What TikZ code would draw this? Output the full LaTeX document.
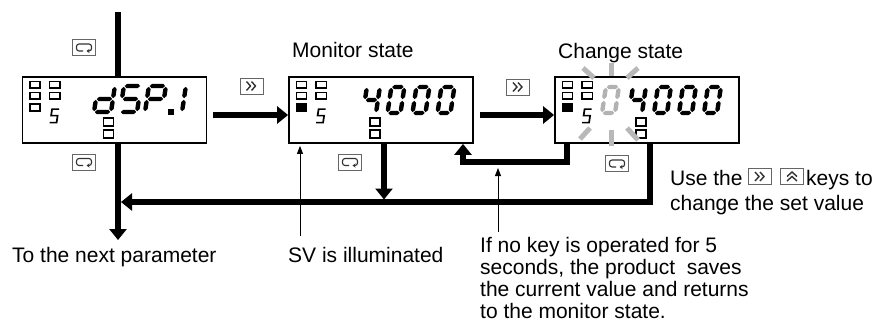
\documentclass[tikz,border=0pt]{standalone}
\usepackage{fontspec}
\setmainfont{Liberation Sans}
\usetikzlibrary{arrows.meta, positioning}

% seven-segment digit: [colour]{x}{y of bottom stroke}{width}{segments}
\def\segH{26}  % height between top and bottom stroke
\def\segT{2.2} % half stroke
\def\segG{0.8} % gap at the corners
\newcommand{\hseg}[3]{({#1},{#3}) -- ({#1+\segT},{#3+\segT}) -- ({#2-\segT},{#3+\segT})
  -- ({#2},{#3}) -- ({#2-\segT},{#3-\segT}) -- ({#1+\segT},{#3-\segT}) -- cycle}
\newcommand{\vseg}[3]{({#1},{#2}) -- ({#1+\segT},{#2-\segT}) -- ({#1+\segT},{#3+\segT})
  -- ({#1},{#3}) -- ({#1-\segT},{#3+\segT}) -- ({#1-\segT},{#2-\segT}) -- cycle}
\newcommand{\segdigit}[5][black]{%
  \begin{scope}[shift={(#2,#3)}, xslant=0.15, y=1pt]
    \def\segW{#4}
    \foreach \s in {#5} {\fill[#1, seg \s];}
  \end{scope}}

\tikzset{
  seg a/.style={insert path={\hseg{\segG}{\segW-\segG}{\segH}}},
  seg b/.style={insert path={\vseg{\segW}{\segH-\segG}{\segH/2+\segG}}},
  seg c/.style={insert path={\vseg{\segW}{\segH/2-\segG}{\segG}}},
  seg d/.style={insert path={\hseg{\segG}{\segW-\segG}{0}}},
  seg e/.style={insert path={\vseg{0}{\segH/2-\segG}{\segG}}},
  seg f/.style={insert path={\vseg{0}{\segH-\segG}{\segH/2+\segG}}},
  seg g/.style={insert path={\hseg{\segG}{\segW-\segG}{\segH/2}}},
}

\begin{document}
\begin{tikzpicture}[
    x=1pt, y=-1pt,
    display/.style={rectangle, draw, line width=1.8pt, fill=white,
                    minimum width=184pt, minimum height=66pt, inner sep=0pt},
    keybox/.style={rectangle, draw=black!60, line width=0.9pt, fill=white,
                   minimum width=23pt, minimum height=16pt, inner sep=0pt},
    glyph/.style={black!80, line width=1.4pt},
    lamp/.style={draw, line width=1.4pt},
    note/.style={font=\fontsize{21}{22}\selectfont, inner sep=0pt},
    flow/.style={line width=5.5pt, -{Triangle[length=11pt, width=17pt]}},
    hint/.style={line width=0.9pt, -{Triangle[length=8pt, width=6pt]}},
    ray/.style={black!28, line width=5pt},
    % indicator lamps of one display, origin at its north west corner
    panel/.pic={
      \draw[lamp] (8.5,5.5) rectangle (18.5,12);
      \draw[lamp] (8.5,16.5) rectangle (18.5,23);
      \draw[lamp, fill=#1] (8.5,28) rectangle (18.5,35);
      \draw[lamp] (28,5.5) rectangle (38.5,12);
      \draw[lamp] (28,16.5) rectangle (38.5,23);
      \draw[line width=1.7pt] (37.5,33) -- (30.5,33) -- (29.5,39.5) -- (36,39.5) -- (35,46.5) -- (28,46.5);
      \draw[lamp] (82,42) rectangle (92,50);
      \draw[lamp] (82,54) rectangle (92,62);
    },
    retglyph/.pic={
      \draw[glyph, line width=1.1pt, rounded corners=2.5pt, -{Stealth[length=3pt, width=4pt]}]
        (-1,3.5) -- (-7.5,3.5) -- (-7.5,-3.5) -- (7.5,-3.5) -- (7.5,3.5) -- (2.5,3.5);
    },
    fastglyph/.pic={
      \draw[glyph] (-5,-4.5) -- (-1,0) -- (-5,4.5) (0,-4.5) -- (4,0) -- (0,4.5);
    },
    upglyph/.pic={
      \draw[glyph] (-5,0) -- (0,-4.5) -- (5,0) (-5,4.5) -- (0,0) -- (5,4.5);
    },
]
    \useasboundingbox (0,0) rectangle (885,324);

    % ── Main parameter line (runs behind the first display) ──
    \coordinate (feedin)  at (118,12);
    \coordinate (nextpar) at (118,240);
    \draw[flow] (feedin) -- (nextpar);

    % ── Displays ──
    \node[display] (dispA) at (114.5,110) {};
    \node[display] (dispB) at (381,110)   {};
    \node[display] (dispC) at (647,110)   {};

    \pic at (dispA.north west) {panel=white};
    \pic at (dispB.north west) {panel=black};
    \pic at (dispC.north west) {panel=black};

    % dSP.1
    \segdigit{94}{112}{17}{b,c,d,e,g}
    \segdigit{120}{112}{17}{a,f,g,c,d}
    \segdigit{145}{112}{17}{a,b,f,g,e}
    \fill (168,109) rectangle (173.5,114.5);
    \segdigit{165}{112}{17}{b,c}

    % 4000 (monitor state)
    \segdigit{363}{113}{13}{f,g,b,c}
    \foreach \x in {387.5,412.5,437.5} {\segdigit{\x}{113}{13}{a,b,c,d,e,f}}

    % 04000 (change state, first digit blinking)
    \segdigit[black!30]{602}{113}{13}{a,b,c,d,e,f}
    \segdigit{629}{113}{13}{f,g,b,c}
    \foreach \x in {654,679,704} {\segdigit{\x}{113}{13}{a,b,c,d,e,f}}
    \foreach \xa/\ya/\xb/\yb in {611/63/611/76, 583/68/594/78, 638/68/627/78,
                                 611/130/611/146, 590/128/580/139, 627/128/638/140}
      \draw[ray] (\xa,\ya) -- (\xb,\yb);

    % ── Keys ──
    \node[keybox] (retA)  at (84,47.5)  {}; \pic at (retA)  {retglyph};
    \node[keybox] (retB)  at (84,162)   {}; \pic at (retB)  {retglyph};
    \node[keybox] (fastA) at (251.5,86) {}; \pic at (fastA) {fastglyph};
    \node[keybox] (fastB) at (518,87)   {}; \pic at (fastB) {fastglyph};
    \node[keybox] (retC)  at (350,162)  {}; \pic at (retC)  {retglyph};
    \node[keybox] (retD)  at (617,163.5){}; \pic at (retD)  {retglyph};

    % ── Flow arrows ──
    \draw[flow] ([xshift=6pt, yshift=-5pt]dispA.east) -- ([yshift=-5pt]dispB.west);
    \draw[flow] ([xshift=6pt, yshift=-5pt]dispB.east) -- ([yshift=-5pt]dispC.west);

    \coordinate (busend) at (121,202);
    \draw[flow] ([xshift=3pt]dispC.south) |- (busend);

    \coordinate (dropB) at ([xshift=3pt]dispB.south);
    \draw[flow, shorten >=2.5pt] (dropB) -- (dropB |- busend);

    \coordinate (backC)    at ([xshift=-80pt]dispC.south);
    \coordinate (backturn) at (463,162);
    \draw[flow] (backC) |- (backturn) -- (backturn |- dispB.south);

    % ── Labels ──
    \node[note, anchor=base west] (monlbl) at (292,57) {Monitor state};
    \node[note, anchor=base west] (chglbl) at (558,58) {Change state};

    \node[note, anchor=base west] (usetxt) at (670,185) {Use the};
    \node[keybox] (fastT) at (760,176.5) {}; \pic at (fastT) {fastglyph};
    \node[keybox] (upT)   at (792,176.5) {}; \pic at (upT)   {upglyph};
    \node[note, anchor=base west] (keystxt) at (806,185) {keys to};
    \node[note, anchor=base west] (settxt)  at (670,210) {change the set value};

    \node[note, anchor=base west] (nexttxt) at (12,262)  {To the next parameter};
    \node[note, anchor=base west] (svtxt)   at (288,262) {SV is illuminated};
    \node[note, anchor=north west, align=left] (idletxt) at (480,236.7)
      {If no key is operated for 5\\seconds, the product\ \ saves\\the current value and returns\\to the monitor state.};

    % pointers
    \coordinate (svfoot)   at (300,236);
    \coordinate (idlefoot) at (498,232);
    \draw[hint, shorten >=2pt] (svfoot) -- (svfoot |- dispB.south);
    \draw[hint, shorten >=6pt] (idlefoot) -- (idlefoot |- backturn);

\end{tikzpicture}
\end{document}
